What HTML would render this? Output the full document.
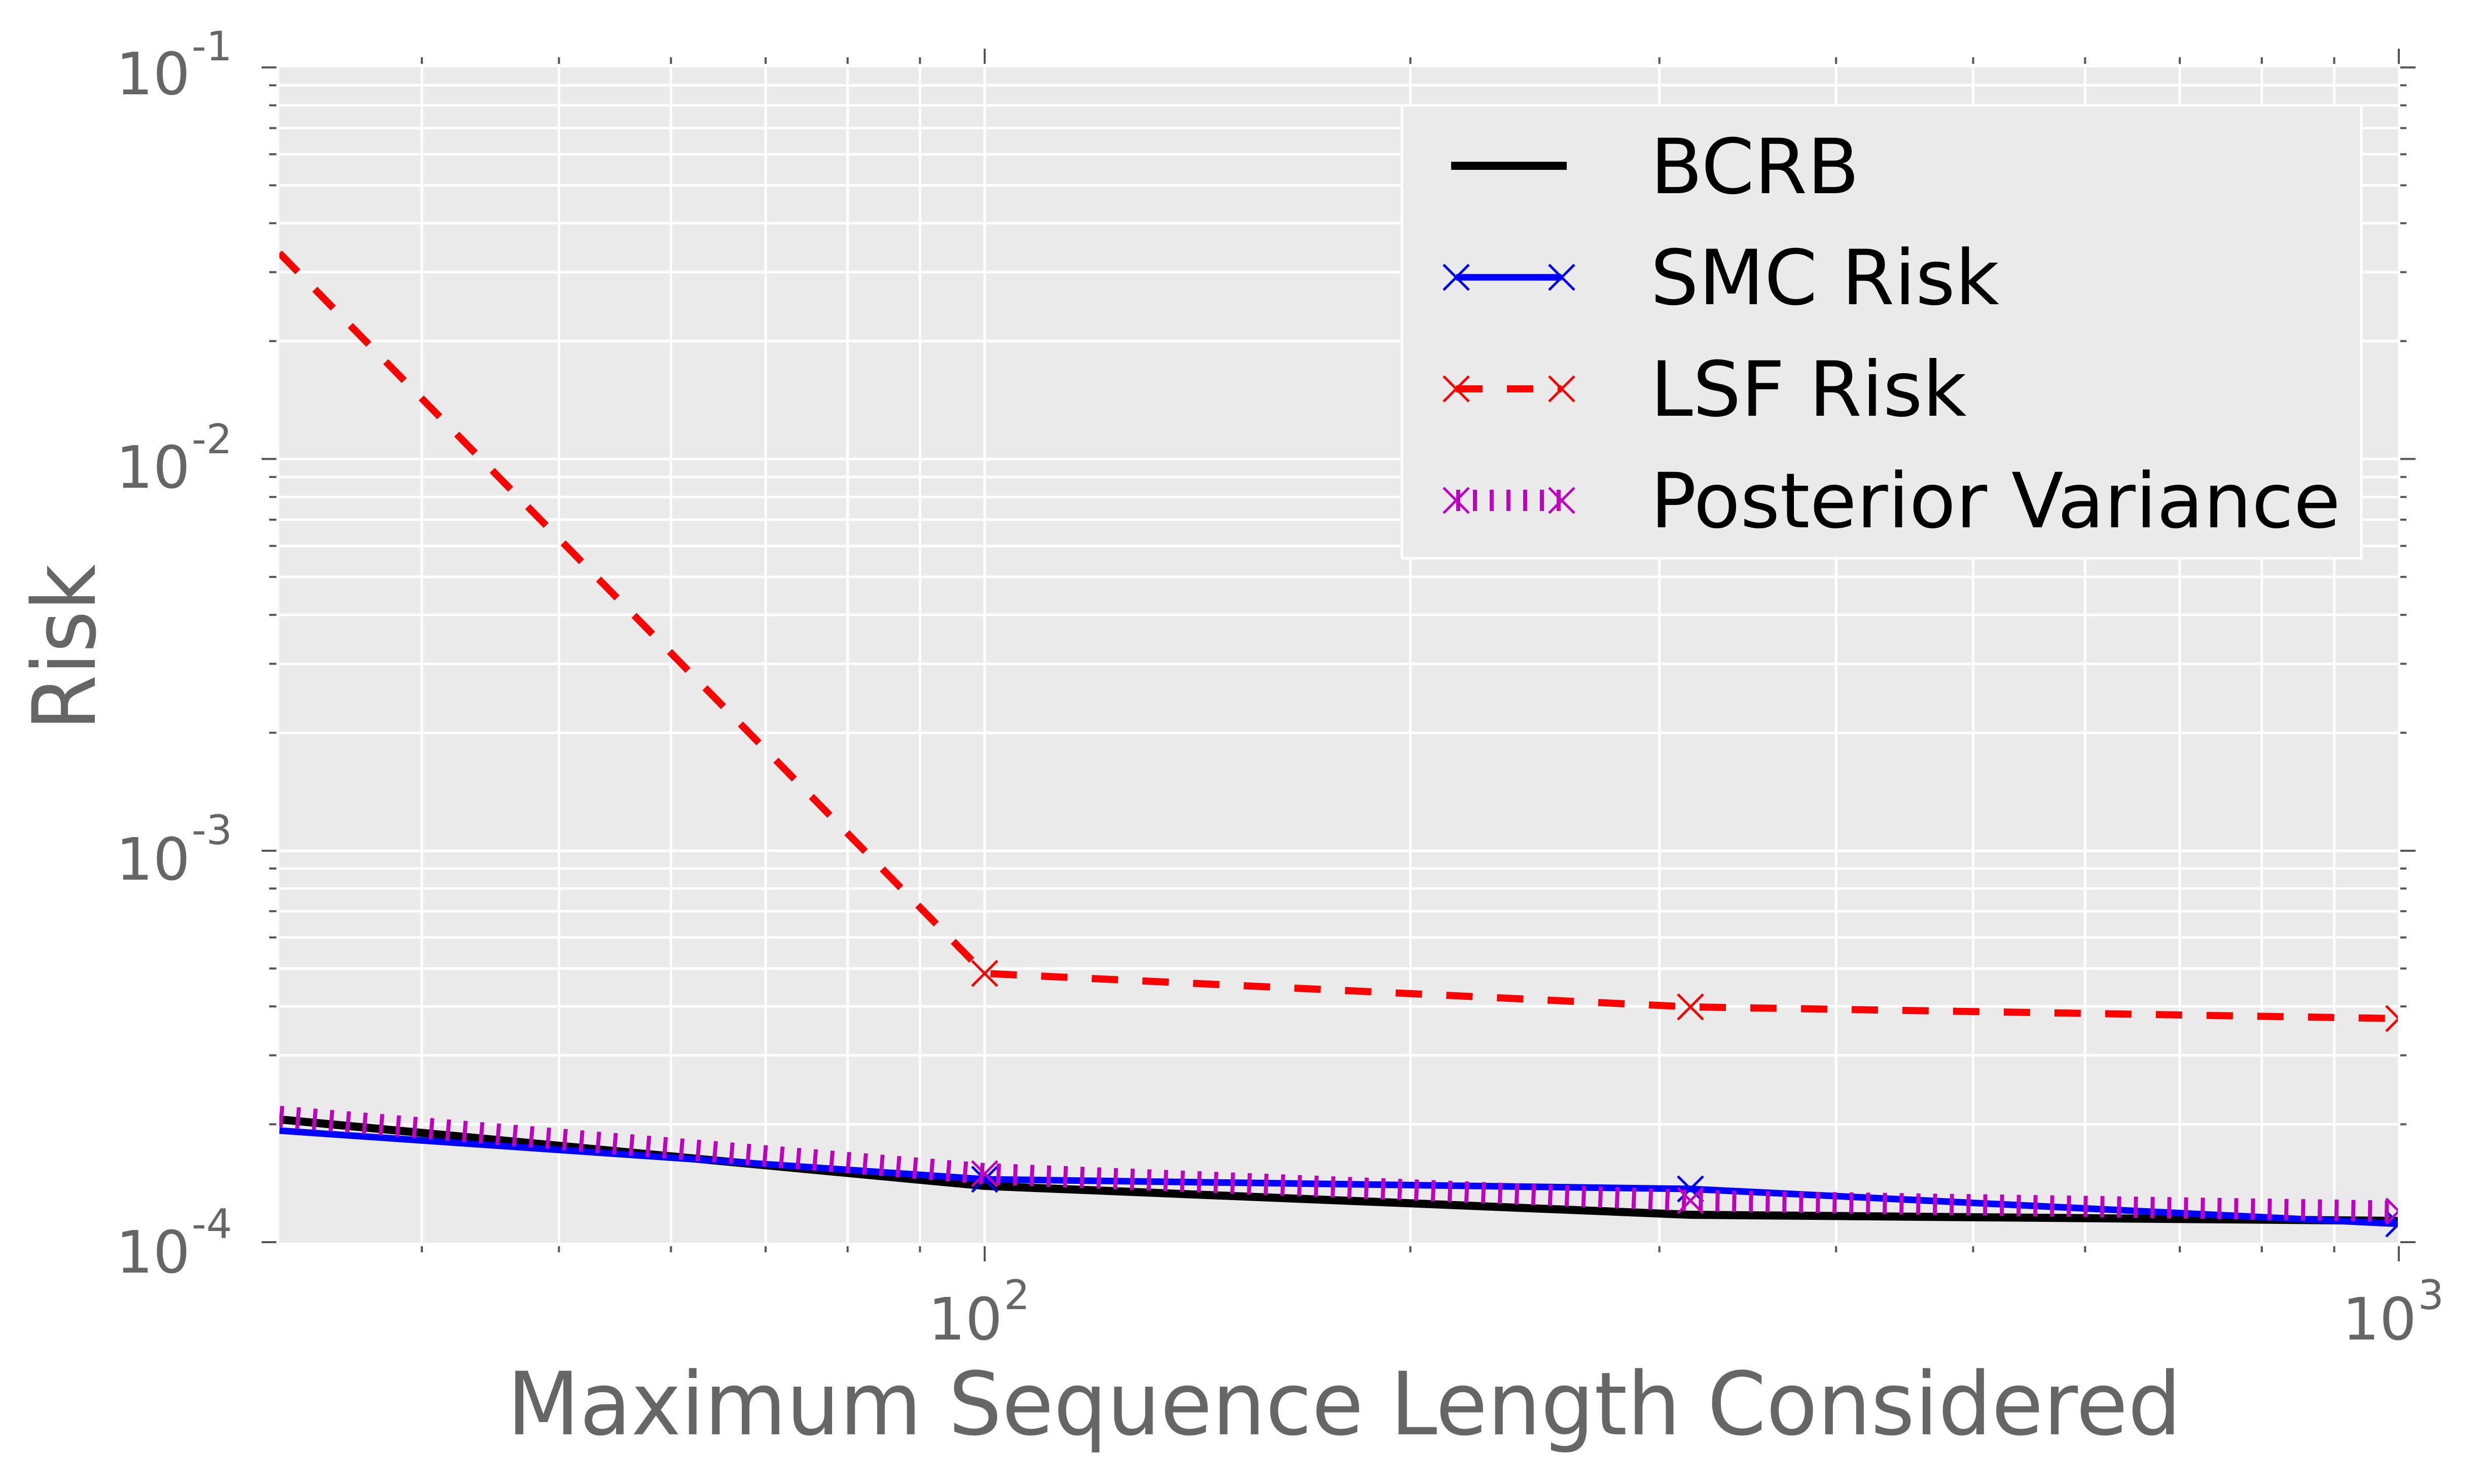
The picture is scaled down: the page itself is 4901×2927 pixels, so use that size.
<!DOCTYPE html>
<html><head><meta charset="utf-8"><style>html,body{margin:0;padding:0;background:#fff}svg{display:block}</style></head>
<body>
<svg width="4901" height="2927" viewBox="0 0 4901 2927" xmlns="http://www.w3.org/2000/svg" font-family="'DejaVu Sans','Liberation Sans',sans-serif">
<defs><clipPath id="c"><rect x="551" y="133" width="4178" height="2318"/></clipPath></defs>
<rect x="551" y="133" width="4178" height="2318" fill="#eaeaea"/>
<g stroke="#fff" stroke-width="5" fill="none">
<path d="M551 2217.5H4729M551 2081.5H4729M551 1985H4729M551 1910.2H4729M551 1849H4729M551 1797.3H4729M551 1752.5H4729M551 1713H4729M551 1678H4729M551 1445.2H4729M551 1309.2H4729M551 1212.7H4729M551 1137.9H4729M551 1076.7H4729M551 1025H4729M551 980.2H4729M551 940.7H4729M551 905.3H4729M551 672.8H4729M551 536.8H4729M551 440.3H4729M551 365.5H4729M551 304.3H4729M551 252.6H4729M551 207.8H4729M551 168.3H4729"/>
<path d="M832 133V2451M1102.4 133V2451M1323.3 133V2451M1510 133V2451M1671.7 133V2451M1814.4 133V2451M1942 133V2451M2781.6 133V2451M3272.7 133V2451M3621.2 133V2451M3891.5 133V2451M4112.3 133V2451M4299 133V2451M4460.8 133V2451M4603.6 133V2451"/>
</g>
<g stroke="#555" stroke-width="4" fill="none">
<path d="M516 2450H545M516 1678H545M516 905.3H545M516 133H545M4734 2450H4764M4734 1678H4764M4734 905.3H4764M4734 133H4764"/>
<path d="M531 2217.5H545M531 2081.5H545M531 1985H545M531 1910.2H545M531 1849H545M531 1797.3H545M531 1752.5H545M531 1713H545M531 1445.2H545M531 1309.2H545M531 1212.7H545M531 1137.9H545M531 1076.7H545M531 1025H545M531 980.2H545M531 940.7H545M531 672.8H545M531 536.8H545M531 440.3H545M531 365.5H545M531 304.3H545M531 252.6H545M531 207.8H545M531 168.3H545"/>
<path d="M4734 2217.5H4746M4734 2081.5H4746M4734 1985H4746M4734 1910.2H4746M4734 1849H4746M4734 1797.3H4746M4734 1752.5H4746M4734 1713H4746M4734 1445.2H4746M4734 1309.2H4746M4734 1212.7H4746M4734 1137.9H4746M4734 1076.7H4746M4734 1025H4746M4734 980.2H4746M4734 940.7H4746M4734 672.8H4746M4734 536.8H4746M4734 440.3H4746M4734 365.5H4746M4734 304.3H4746M4734 252.6H4746M4734 207.8H4746M4734 168.3H4746"/>
<path d="M1942 96V126M4731 96V126M1942 2458V2488M4731 2458V2488"/>
<path d="M832 113V126M1102.4 113V126M1323.3 113V126M1510 113V126M1671.7 113V126M1814.4 113V126M2781.6 113V126M3272.7 113V126M3621.2 113V126M3891.5 113V126M4112.3 113V126M4299 113V126M4460.8 113V126M4603.6 113V126"/>
<path d="M832 2458V2470M1102.4 2458V2470M1323.3 2458V2470M1510 2458V2470M1671.7 2458V2470M1814.4 2458V2470M2781.6 2458V2470M3272.7 2458V2470M3621.2 2458V2470M3891.5 2458V2470M4112.3 2458V2470M4299 2458V2470M4460.8 2458V2470M4603.6 2458V2470"/>
</g>
<g clip-path="url(#c)" fill="none">
<polyline points="551,2208 1942,2339 3334,2396 4731,2408" stroke="#000" stroke-width="16" stroke-linejoin="round"/>
<polyline points="551,2230 1942,2326 3334,2345 4731,2414" stroke="#0000ff" stroke-width="13" stroke-linejoin="round"/>
<g stroke="#0000ff" stroke-width="5"><path d="M1917 2301l50 50M1967 2301l-50 50M3309 2320l50 50M3359 2320l-50 50M4706 2389l50 50M4756 2389l-50 50"/></g>
<polyline points="551,499 1942,1920 3334,1986 4731,2009" stroke="#ff0000" stroke-width="14" stroke-dasharray="52 48"/>
<g stroke="#ff0000" stroke-width="5"><path d="M1917 1895l50 50M1967 1895l-50 50M3309 1961l50 50M3359 1961l-50 50M4706 1984l50 50M4756 1984l-50 50"/></g>
<polyline points="551,2202 1942,2315 3334,2368 4731,2389" stroke="#bf00bf" stroke-width="42" stroke-dasharray="8 25"/>
<g stroke="#bf00bf" stroke-width="5"><path d="M1917 2290l50 50M1967 2290l-50 50M3309 2343l50 50M3359 2343l-50 50M4706 2364l50 50M4756 2364l-50 50"/></g>
</g>
<g fill="#666">
<text x="375" y="186" font-size="115" text-anchor="end">10</text><text x="378" y="119" font-size="80">-1</text>
<text x="375" y="962" font-size="115" text-anchor="end">10</text><text x="378" y="894" font-size="80">-2</text>
<text x="375" y="1735" font-size="115" text-anchor="end">10</text><text x="378" y="1665" font-size="80">-3</text>
<text x="375" y="2510" font-size="115" text-anchor="end">10</text><text x="378" y="2442" font-size="80">-4</text>
<text x="1977" y="2642" font-size="115" text-anchor="end">10</text><text x="1980" y="2582" font-size="80">2</text>
<text x="4766" y="2642" font-size="115" text-anchor="end">10</text><text x="4769" y="2582" font-size="80">3</text>
<text x="1000" y="2829" font-size="172" textLength="3302" lengthAdjust="spacingAndGlyphs">Maximum Sequence Length Considered</text>
<text transform="translate(187,1277) rotate(-90)" font-size="172" text-anchor="middle" textLength="328" lengthAdjust="spacingAndGlyphs">Risk</text>
</g>
<rect x="2765" y="208" width="1892" height="893" fill="#eaeaea" stroke="#fff" stroke-width="5"/>
<g fill="none">
<path d="M2862 327H3090" stroke="#000" stroke-width="16"/>
<path d="M2872 547H3080" stroke="#0000ff" stroke-width="13"/>
<path d="M2847 522l50 50M2897 522l-50 50M3055 522l50 50M3105 522l-50 50" stroke="#0000ff" stroke-width="5"/>
<path d="M2872 767H3080" stroke="#ff0000" stroke-width="14" stroke-dasharray="52 48"/>
<path d="M2847 742l50 50M2897 742l-50 50M3055 742l50 50M3105 742l-50 50" stroke="#ff0000" stroke-width="5"/>
<path d="M2872 987H3085" stroke="#bf00bf" stroke-width="42" stroke-dasharray="8 25"/>
<path d="M2847 962l50 50M2897 962l-50 50M3055 962l50 50M3105 962l-50 50" stroke="#bf00bf" stroke-width="5"/>
</g>
<g fill="#000" font-size="150">
<text x="3255" y="381">BCRB</text>
<text x="3255" y="600">SMC Risk</text>
<text x="3255" y="820">LSF Risk</text>
<text x="3255" y="1040" textLength="1361" lengthAdjust="spacingAndGlyphs">Posterior Variance</text>
</g>
</svg>
</body></html>
